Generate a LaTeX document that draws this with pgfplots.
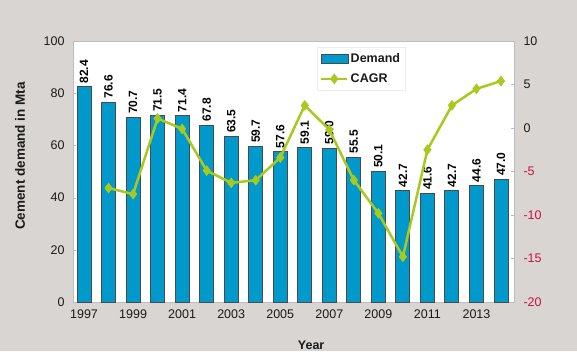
\documentclass[border=0pt]{standalone}
\usepackage{pgfplots}
\pgfplotsset{compat=1.18}
\usepackage{pgfplotstable}
\usepackage{fontspec}
\setmainfont{Liberation Sans}
\definecolor{bg}{HTML}{D9D5D2}
\definecolor{barblue}{HTML}{0099CC}
\definecolor{baredge}{HTML}{4A4A4A}
\definecolor{lime}{HTML}{A9C91E}
\definecolor{negred}{HTML}{D0103A}
\definecolor{axgray}{HTML}{BDBDBD}
\definecolor{txt}{HTML}{1A1A1A}

\pgfplotsset{
  cagrlegend/.style={legend image code/.code={\draw[mark repeat=2,mark phase=2,##1] plot coordinates {(0pt,0pt)(13pt,0pt)(26pt,0pt)};}},
  demandlegend/.style={legend image code/.code={\draw[fill=barblue,draw=baredge,line width=0.8pt] (0pt,-4.5pt) rectangle (27pt,4.5pt);}},
}

\pgfplotstableread{
year demand
1997 82.4
1998 76.6
1999 70.7
2000 71.5
2001 71.4
2002 67.8
2003 63.5
2004 59.7
2005 57.6
2006 59.1
2007 59.0
2008 55.5
2009 50.1
2010 42.7
2011 41.6
2012 42.7
2013 44.6
2014 47.0
}\demandtable

\pgfplotstableread{
year cagr
1998 -6.9
1999 -7.6
2000 1.1
2001 -0.1
2002 -4.9
2003 -6.3
2004 -6.0
2005 -3.4
2006 2.6
2007 -0.2
2008 -6.0
2009 -9.8
2010 -14.8
2011 -2.5
2012 2.6
2013 4.5
2014 5.4
}\cagrtable

\begin{document}
\begin{tikzpicture}
\fill[bg] (-73pt,-49pt) rectangle (504pt,302pt);
\begin{axis}[
  scale only axis, width=441pt, height=261pt,
  xmin=1996.55, xmax=2014.53, ymin=0, ymax=100,
  axis background/.style={fill=white},
  axis line style={draw=axgray, line width=0.8pt},
  xtick={1997,1999,...,2013},
  xticklabels={1997,1999,2001,2003,2005,2007,2009,2011,2013},
  ytick={0,20,...,100},
  xtick pos=bottom, ytick pos=left,
  tick style={draw=axgray},
  major tick length=3pt,
  /pgf/number format/assume math mode=true,
  ticklabel style={font=\fontsize{12.5}{12.5}\selectfont, text=txt},
  yticklabel style={xshift=-5pt},
  xticklabel style={yshift=-4pt},
  xlabel={\textbf{Year}},
  xlabel style={at={(axis description cs:0.54,0)}, anchor=north, yshift=-35pt, font=\fontsize{12.5}{12.5}\selectfont, text=txt},
  ylabel={\textbf{Cement demand in Mta}},
  ylabel style={at={(axis description cs:-0.12,0.56)}, anchor=center, font=\fontsize{13.5}{14}\selectfont, text=txt},
  clip=false,
]
\addplot[ybar, bar width=14pt, fill=barblue, draw=baredge, line width=1pt,
  nodes near coords={\pgfmathprintnumber[fixed,fixed zerofill,precision=1]{\pgfplotspointmeta}},
  nodes near coords style={rotate=90, anchor=west, inner sep=3pt, text=black,
    font=\bfseries\fontsize{12}{12}\selectfont}]
  table[x=year,y=demand]{\demandtable};
\end{axis}
\begin{axis}[
  scale only axis, width=441pt, height=261pt,
  xmin=1996.55, xmax=2014.53, ymin=-20, ymax=10,
  axis y line*=right, axis x line=none,
  axis line style={draw=axgray, line width=0.8pt},
  tick style={draw=axgray},
  major tick length=3pt,
  ytick={-20,-15,...,10},
  yticklabels={{\color{negred}-20},{\color{negred}-15},{\color{negred}-10},{\color{negred}-5},0,5,10},
  ticklabel style={font=\fontsize{12.5}{12.5}\selectfont, text=txt},
  yticklabel style={xshift=6pt},
  legend style={at={(0.553,0.977)}, anchor=north west, draw=gray!15, fill=white,
    font=\bfseries\fontsize{12.5}{13}\selectfont, text=txt, row sep=6pt,
    inner xsep=3pt, inner ysep=4pt},
  legend cell align=left,
]
\addlegendimage{demandlegend}
\addlegendentry{Demand}
\addplot[color=lime, line width=2.5pt, mark=diamond*, mark size=5pt, mark options={fill=lime, draw=lime, line width=0.5pt}, cagrlegend]
  table[x=year,y=cagr]{\cagrtable};
\addlegendentry{CAGR}
\end{axis}
\pgfresetboundingbox
\useasboundingbox (-73pt,-49pt) rectangle (504pt,302pt);
\end{tikzpicture}
\end{document}
